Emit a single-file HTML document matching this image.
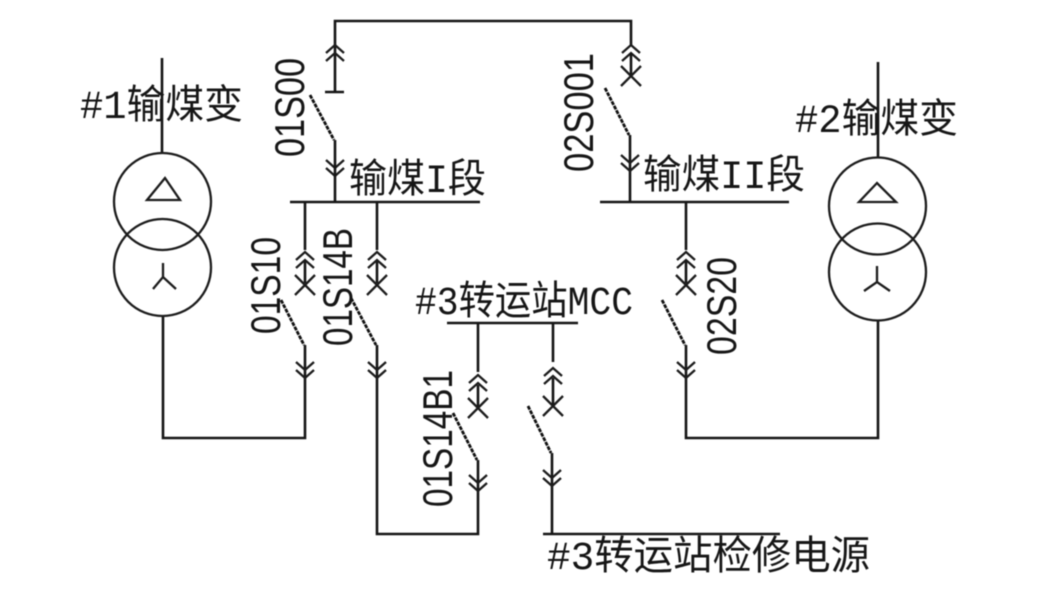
<!DOCTYPE html>
<html lang="zh"><head><meta charset="utf-8"><title>输煤变接线图</title>
<style>
html,body{margin:0;padding:0;background:#fff;width:1046px;height:591px;overflow:hidden}
svg{display:block;filter:blur(.45px)}
.l{fill:none;stroke:#151515;stroke-width:2.6}
.t{fill:none;stroke:#1c1c1c;stroke-width:2.3}
.d{fill:none;stroke:#111;stroke-width:2.8;stroke-dasharray:4 1}
text{fill:#161616}
.c{font-family:"Liberation Mono","Noto Sans CJK SC",monospace;font-size:40px;font-weight:400}
.r{font-family:"Liberation Sans",sans-serif;font-size:42px}
</style></head><body>
<svg width="1046" height="591" viewBox="0 0 1046 591" xmlns="http://www.w3.org/2000/svg">
<defs>
<g id="up" class="t"><path d="M-9 8L0 0L9 8M-9 16L0 8L9 16"/></g>
<g id="dn" class="t"><path d="M-9 -8L0 0L9 -8M-9 0L0 8L9 0"/></g>
<g id="x" class="t"><path d="M-10 -9L10 11M10 -9L-10 11"/></g>
</defs>

<path class="l" d="M335 92V21H631V46"/>
<path class="l" d="M325 92H344"/>
<use href="#up" x="335" y="45"/>
<use href="#dn" x="335" y="168"/>
<path class="d" d="M310 95L334 140"/>
<path class="l" d="M335 140V202"/>
<path class="l" d="M290 202H480"/>

<use href="#up" x="631" y="45"/>
<path class="l" d="M631 53V75"/>
<use href="#x" x="631" y="75"/>
<path class="d" d="M605 88L629 135"/>
<path class="l" d="M630 135V202"/>
<use href="#dn" x="630" y="163"/>
<path class="l" d="M600 202H789"/>

<path class="l" d="M305 202V250M305 260V283"/>
<use href="#up" x="305" y="252"/><use href="#x" x="305" y="284"/>
<path class="l" d="M377 202V250M377 260V283"/>
<use href="#up" x="377" y="252"/><use href="#x" x="377" y="284"/>
<path class="l" d="M686 202V250M686 260V283"/>
<use href="#up" x="686" y="252"/><use href="#x" x="686" y="284"/>

<path class="d" d="M281 300L304 345"/>
<path class="l" d="M305 345V438H163V315"/>
<use href="#dn" x="305" y="370"/>
<path class="d" d="M351 298L376 345"/>
<path class="l" d="M377 345V534H478V460"/>
<use href="#dn" x="377" y="370"/>
<path class="d" d="M662 300L685 345"/>
<path class="l" d="M686 345V438H878V320"/>
<use href="#dn" x="686" y="370"/>

<path class="l" d="M447 323H578"/>
<path class="l" d="M478 323V372M478 385V408"/>
<use href="#up" x="478" y="375"/><use href="#x" x="478" y="407"/>
<path class="l" d="M553 323V362M553 378V405"/>
<use href="#up" x="553" y="368"/><use href="#x" x="553" y="405"/>
<path class="d" d="M453 413L477 460"/>
<use href="#dn" x="478" y="483"/>
<path class="d" d="M528 406L551 453"/>
<path class="l" d="M552 453V534"/>
<use href="#dn" x="552" y="478"/>
<path class="l" d="M543 534H780"/>

<path class="l" d="M162 58V153"/>
<circle class="t" cx="162.5" cy="201.5" r="48.5"/>
<circle class="t" cx="162.5" cy="267.5" r="48.5"/>
<path class="t" d="M165 178L147 200H180Z"/>
<path class="t" d="M163 263V277M153 289L163 277L176 289"/>

<path class="l" d="M878 62V158"/>
<circle class="t" cx="877.5" cy="206" r="48.5"/>
<circle class="t" cx="877.5" cy="272" r="48.5"/>
<path class="t" d="M877 183L859 202H896Z"/>
<path class="t" d="M877 266V282M864 291L877 282L890 291"/>

<text class="c" x="80" y="118" textLength="163" lengthAdjust="spacingAndGlyphs">#1输煤变</text>
<text class="c" x="795" y="132" textLength="163" lengthAdjust="spacingAndGlyphs">#2输煤变</text>
<text class="c" x="349" y="192" textLength="137" lengthAdjust="spacingAndGlyphs">输煤I段</text>
<text class="c" x="643" y="188" textLength="162" lengthAdjust="spacingAndGlyphs">输煤II段</text>
<text class="c" x="415" y="314" textLength="218" lengthAdjust="spacingAndGlyphs">#3转运站MCC</text>
<text class="c" x="547" y="569" textLength="323" lengthAdjust="spacingAndGlyphs">#3转运站检修电源</text>

<text class="r" transform="translate(304,157) rotate(-90)" textLength="99" lengthAdjust="spacingAndGlyphs">01S00</text>
<text class="r" transform="translate(593,172) rotate(-90)" textLength="119" lengthAdjust="spacingAndGlyphs">02S001</text>
<text class="r" transform="translate(280,334) rotate(-90)" textLength="97" lengthAdjust="spacingAndGlyphs">01S10</text>
<text class="r" transform="translate(352,346) rotate(-90)" textLength="118" lengthAdjust="spacingAndGlyphs">01S14B</text>
<text class="r" transform="translate(736,355) rotate(-90)" textLength="98" lengthAdjust="spacingAndGlyphs">02S20</text>
<text class="r" transform="translate(452,507) rotate(-90)" textLength="137" lengthAdjust="spacingAndGlyphs">01S14B1</text>
</svg>
</body></html>
